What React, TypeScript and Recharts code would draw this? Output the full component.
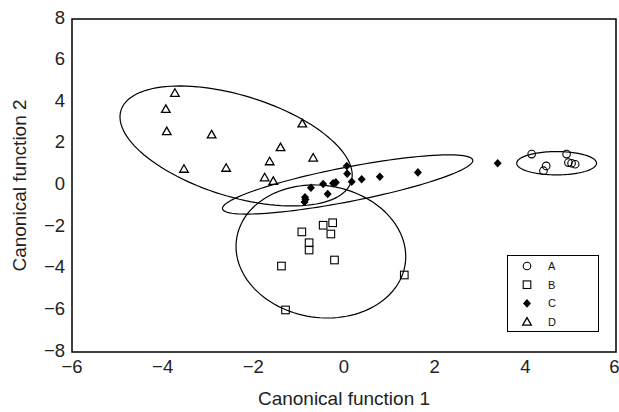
import { ScatterChart, Scatter, XAxis, YAxis, ReferenceArea } from "recharts"

// group scores (canonical function 1, canonical function 2)
const groupA = [
  { x: 4.14, y: 1.51 }, { x: 4.46, y: 0.94 }, { x: 4.4, y: 0.71 }, { x: 4.91, y: 1.51 },
  { x: 4.95, y: 1.1 }, { x: 5.02, y: 1.07 }, { x: 5.1, y: 1.02 },
]
const groupB = [
  { x: -0.25, y: -1.79 }, { x: -0.46, y: -1.91 }, { x: -0.29, y: -2.33 }, { x: -0.93, y: -2.23 },
  { x: -0.77, y: -2.75 }, { x: -0.77, y: -3.1 }, { x: -0.21, y: -3.58 }, { x: -1.38, y: -3.87 },
  { x: 1.33, y: -4.3 }, { x: -1.29, y: -5.98 },
]
const groupC = [
  { x: 0.06, y: 0.94 }, { x: 0.07, y: 0.57 }, { x: 0.17, y: 0.18 }, { x: 0.39, y: 0.3 },
  { x: 0.79, y: 0.42 }, { x: 1.63, y: 0.63 }, { x: 3.39, y: 1.07 }, { x: -0.18, y: 0.15 },
  { x: -0.24, y: 0.11 }, { x: -0.46, y: 0.07 }, { x: -0.73, y: -0.11 }, { x: -0.36, y: -0.41 },
  { x: -0.86, y: -0.57 }, { x: -0.87, y: -0.79 }, { x: -0.85, y: -0.67 },
]
const groupD = [
  { x: -3.73, y: 4.43 }, { x: -3.93, y: 3.66 }, { x: -3.91, y: 2.59 }, { x: -2.92, y: 2.43 },
  { x: -0.92, y: 2.96 }, { x: -1.4, y: 1.82 }, { x: -0.68, y: 1.32 }, { x: -1.64, y: 1.14 },
  { x: -3.53, y: 0.78 }, { x: -2.6, y: 0.83 }, { x: -1.75, y: 0.37 }, { x: -1.56, y: 0.2 },
]

// 95% ellipses: centre and two conjugate semi-axis vectors, in data units
const ellipseNames = ["A", "B", "C", "D"]
const ellipseCenters = [[4.69, 1.07], [-0.51, -3.17], [0.08, 0.05], [-2.38, 1.9]]
const ellipseAxisU = [[0.88, 0], [1.86, -0.6], [2.76, 1.17], [2.54, -1.71]]
const ellipseAxisV = [[0, 0.56], [-0.21, -3.14], [0.072, -0.81], [-0.33, -2.32]]

const xTicks = [-6, -4, -2, 0, 2, 4, 6]
const yTicks = [-8, -6, -4, -2, 0, 2, 4, 6, 8]

const outline = (i: number) => {
  const pts = []
  const n = 120
  for (let k = 0; k <= n; k++) {
    const t = (k / n) * Math.PI * 2
    pts.push({
      x: ellipseCenters[i][0] + ellipseAxisU[i][0] * Math.cos(t) + ellipseAxisV[i][0] * Math.sin(t),
      y: ellipseCenters[i][1] + ellipseAxisU[i][1] * Math.cos(t) + ellipseAxisV[i][1] * Math.sin(t),
    })
  }
  return pts
}

const fmt = (v: number) => String(v).replace("-", "\u2212")
const font = "'Liberation Sans', Arial, sans-serif"

const Circle = (p: any) => <circle cx={p.cx} cy={p.cy} r={3.8} fill="none" stroke="#000" strokeWidth={1.1} />
const Square = (p: any) => <rect x={p.cx - 3.8} y={p.cy - 3.8} width={7.6} height={7.6} fill="none" stroke="#000" strokeWidth={1.1} />
const Diamond = (p: any) => (
  <path d={`M${p.cx},${p.cy - 4.3}L${p.cx + 4},${p.cy}L${p.cx},${p.cy + 4.3}L${p.cx - 4},${p.cy}Z`} fill="#000" />
)
const Triangle = (p: any) => (
  <path d={`M${p.cx},${p.cy - 4.5}L${p.cx + 4.3},${p.cy + 3}L${p.cx - 4.3},${p.cy + 3}Z`} fill="none" stroke="#000" strokeWidth={1.3} />
)
const NoDot = () => <g />

const legendRows = [
  { name: "A", Icon: Circle },
  { name: "B", Icon: Square },
  { name: "C", Icon: Diamond },
  { name: "D", Icon: Triangle },
]

const LegendBox = () => (
  <div style={{ position: "absolute", left: 507, top: 255, width: 90, height: 75, border: "1.3px solid #000", background: "#fff" }}>
    <svg width={90} height={75} style={{ display: "block" }}>
      {legendRows.map((r, i) => (
        <g key={r.name}>
          <r.Icon cx={19} cy={10 + i * 18.7} />
          <text x={40} y={10 + i * 18.7} dy="0.36em" fontSize={11} fontFamily={font} fill="#111">{r.name}</text>
        </g>
      ))}
    </svg>
  </div>
)

export default function App() {
  return (
    <div style={{ position: "absolute", left: 0, top: 0, width: 619, height: 412, background: "#fff" }}>
      <ScatterChart width={619} height={412} margin={{ top: 19, right: 3, bottom: 0, left: 0 }}>
        <XAxis
          type="number" dataKey="x" domain={[-6, 6]} ticks={xTicks} tickFormatter={fmt}
          height={60} axisLine={false} tickLine={false} tickMargin={2}
          tick={{ fontSize: 18.5, fill: "#222", fontFamily: font }}
          label={{ value: "Canonical function 1", position: "insideBottom", offset: 7, fontSize: 19, fill: "#222", fontFamily: font }}
        />
        <YAxis
          type="number" dataKey="y" domain={[-8, 8]} ticks={yTicks} tickFormatter={fmt}
          width={72} axisLine={false} tickLine={false} tickMargin={1}
          tick={{ fontSize: 18.5, fill: "#222", fontFamily: font, dy: -2 }}
          label={{ value: "Canonical function 2", angle: -90, position: "insideLeft", offset: 19, fontSize: 19, fill: "#222", fontFamily: font, style: { textAnchor: "middle" } }}
        />
        <ReferenceArea x1={-6} x2={6} y1={-8} y2={8} fill="none" stroke="#000" strokeWidth={1.5} />
        {ellipseNames.map((n, i) => (
          <Scatter key={n} data={outline(i)} line={{ stroke: "#000", strokeWidth: 1.2 }} shape={NoDot} legendType="none" isAnimationActive={false} />
        ))}
        <Scatter name="A" data={groupA} shape={Circle} isAnimationActive={false} />
        <Scatter name="B" data={groupB} shape={Square} isAnimationActive={false} />
        <Scatter name="C" data={groupC} shape={Diamond} isAnimationActive={false} />
        <Scatter name="D" data={groupD} shape={Triangle} isAnimationActive={false} />
      </ScatterChart>
      <LegendBox />
    </div>
  )
}
